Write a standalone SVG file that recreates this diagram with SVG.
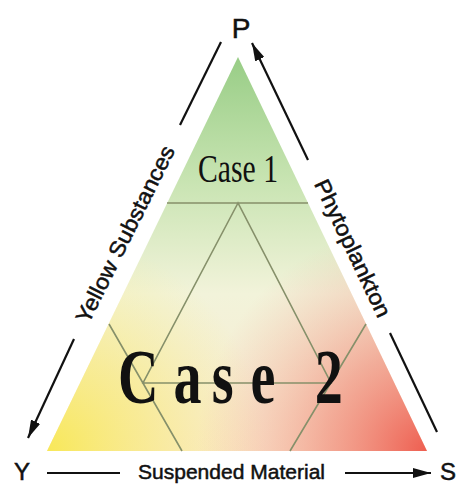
<svg xmlns="http://www.w3.org/2000/svg" width="457" height="486" viewBox="0 0 457 486">
<defs>
<style>
.lbl{font-family:"Liberation Sans",Arial,sans-serif;fill:#111;stroke:#111;stroke-width:0.5}
.cs{font-family:"Liberation Serif","Times New Roman",serif;fill:#111}
.grid{fill:none;stroke:#86906a;stroke-width:1.6}
.ax{stroke:#111;stroke-width:2.2;fill:none}
</style>
<linearGradient id="gv" x1="0" y1="57" x2="0" y2="451" gradientUnits="userSpaceOnUse">
<stop offset="0" stop-color="#98cd86"/>
<stop offset="0.3" stop-color="#c6e3b0"/>
<stop offset="0.6" stop-color="#f2f3da"/>
<stop offset="1" stop-color="#faeacf"/>
</linearGradient>
<radialGradient id="gy" cx="47" cy="451" r="220" gradientUnits="userSpaceOnUse">
<stop offset="0" stop-color="#f8e858" stop-opacity="1"/>
<stop offset="0.45" stop-color="#f8ea78" stop-opacity="0.65"/>
<stop offset="1" stop-color="#f8ee90" stop-opacity="0"/>
</radialGradient>
<radialGradient id="gr" cx="427" cy="451" r="230" gradientUnits="userSpaceOnUse">
<stop offset="0" stop-color="#ee5e50" stop-opacity="1"/>
<stop offset="0.45" stop-color="#f08a7a" stop-opacity="0.65"/>
<stop offset="1" stop-color="#f4b0a0" stop-opacity="0"/>
</radialGradient>
<marker id="ah" markerWidth="18" markerHeight="10" refX="18" refY="5" orient="auto" markerUnits="userSpaceOnUse">
<path d="M0,0 L18,5 L0,10 Z" fill="#111"/>
</marker>
</defs>
<rect width="457" height="486" fill="#fff"/>
<g id="triangle">
<path d="M238,57 L427,451 L47,451 Z" fill="url(#gv)"/>
<path d="M238,57 L427,451 L47,451 Z" fill="url(#gy)"/>
<path d="M238,57 L427,451 L47,451 Z" fill="url(#gr)"/>
<path class="grid" d="M167,203 L308,203 M238,203 L143,383 L331,383 Z M109,324 L182,451 M366,324 L290,451"/>
</g>
<g id="case1"><text class="cs" x="198" y="182" font-size="40" textLength="80" lengthAdjust="spacingAndGlyphs">Case 1</text></g>
<g id="case2"><text class="cs" font-size="78" font-weight="bold" transform="scale(0.72,1)" y="403" x="164 241 294 348 400 437">Case 2</text></g>
<g id="connectors">
<line class="ax" x1="221" y1="42" x2="180" y2="125"/>
<line class="ax" x1="74" y1="339" x2="28" y2="438" marker-end="url(#ah)"/>
<line class="ax" x1="308" y1="160" x2="252" y2="43" marker-end="url(#ah)"/>
<line class="ax" x1="390" y1="333" x2="437" y2="432"/>
<line class="ax" x1="47" y1="473" x2="120" y2="473"/>
<line class="ax" x1="345" y1="473" x2="431" y2="473" marker-end="url(#ah)"/>
</g>
<g id="P"><text class="lbl" x="241" y="38" font-size="28" text-anchor="middle">P</text></g>
<g id="Y"><text class="lbl" x="22" y="480" font-size="24" text-anchor="middle">Y</text></g>
<g id="S"><text class="lbl" x="448" y="480" font-size="24" text-anchor="middle">S</text></g>
<g id="labels">
<text class="lbl" x="138" y="479" font-size="21" textLength="187" lengthAdjust="spacingAndGlyphs">Suspended Material</text>
<text class="lbl" font-size="22" text-anchor="middle" textLength="195" lengthAdjust="spacingAndGlyphs" transform="translate(132,237.5) rotate(-63.5)">Yellow Substances</text>
<text class="lbl" font-size="22" text-anchor="middle" textLength="150" lengthAdjust="spacingAndGlyphs" transform="translate(346,251.5) rotate(64.5)">Phytoplankton</text>
</g>
</svg>
